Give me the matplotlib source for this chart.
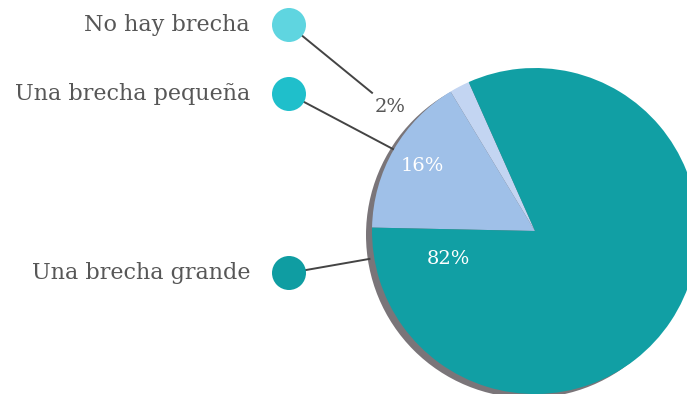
import numpy as np
import matplotlib
matplotlib.use("Agg")
import matplotlib.pyplot as plt
from matplotlib.patches import Circle

# Survey answers and their shares (percent)
categories = ["No hay brecha", "Una brecha pequeña", "Una brecha grande"]
shares = [2, 16, 82]
pct_labels = ["2%", "16%", "82%"]

wedge_colors = ["#c3d5f2", "#9fc0e8", "#119fa4"]
dot_colors = ["#5fd5e0", "#1fbfcb", "#0f9da2"]
text_color = "#575757"

W, H = 687, 394
fig = plt.figure(figsize=(W / 100, H / 100), dpi=100)
ax = fig.add_axes([0, 0, 1, 1])

cx, cy, r = 535, H - 231, 163

# soft grey drop shadow behind the pie
ax.add_patch(Circle((cx - 6, cy - 4), r, facecolor="#7a7579", edgecolor="none", zorder=1))

wedges, _ = ax.pie(shares, colors=wedge_colors, startangle=114, counterclock=True,
                   center=(cx, cy), radius=r,
                   wedgeprops=dict(linewidth=0, zorder=2))
for w in wedges:
    w.set_zorder(2)

def mid_angle(w):
    return np.deg2rad((w.theta1 + w.theta2) / 2)

def on_circle(a, k):
    return cx + k * r * np.cos(a), cy + k * r * np.sin(a)

font = ["DejaVu Serif"]

# legend-like labels with coloured dots on the left
label_y = [H - 25, H - 94, H - 273]
dot_x, dot_r = 289, 17
for name, y, col in zip(categories, label_y, dot_colors):
    ax.text(250, y, name, ha="right", va="center", fontsize=16,
            color=text_color, family=font)
    ax.add_patch(Circle((dot_x, y), dot_r, facecolor=col, edgecolor="none", zorder=4))

# percentage labels
a0 = mid_angle(wedges[0])
lx0, ly0 = on_circle(a0 + np.deg2rad(22), 1.17)
ax.text(lx0, ly0, pct_labels[0], ha="center", va="center", fontsize=14,
        color=text_color, family=font, zorder=5)

a1 = mid_angle(wedges[1])
lx1, ly1 = on_circle(a1, 0.80)
ax.text(lx1, ly1, pct_labels[1], ha="center", va="center", fontsize=14,
        color="white", family=font, zorder=5)

a2 = np.deg2rad(wedges[2].theta1 + 19)
lx2, ly2 = on_circle(a2, 0.56)
ax.text(lx2, ly2, pct_labels[2], ha="center", va="center", fontsize=14,
        color="white", family=font, zorder=5)

# leader lines from dots to the pie
line_kw = dict(color="#444444", linewidth=1.4, zorder=3, solid_capstyle="butt")
ax.plot([dot_x, lx0 - 17], [label_y[0], ly0 + 14], **line_kw)
ex1, ey1 = on_circle(a1, 1.0)
ax.plot([dot_x, ex1], [label_y[1], ey1], **line_kw)
ex2, ey2 = on_circle(np.deg2rad(wedges[2].theta1 + 11), 1.0)
ax.plot([dot_x, ex2 - 4], [label_y[2], ey2], **line_kw)

ax.set_xlim(0, W)
ax.set_ylim(0, H)
ax.set_aspect("equal")
ax.axis("off")

fig.savefig("out.png", dpi=100, facecolor="white")
